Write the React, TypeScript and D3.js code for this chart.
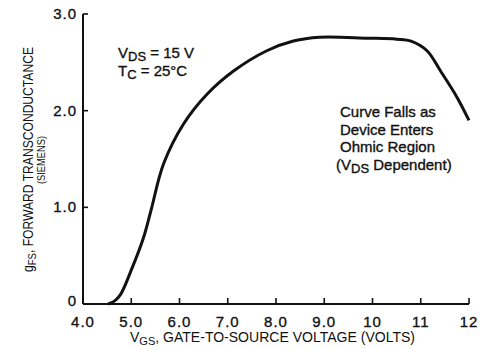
import React, { useEffect, useRef } from 'react';
import * as d3 from 'd3';

// curve
const vgs = [4.52, 4.65, 4.78, 5.0, 5.25, 5.4, 5.67, 6.08, 6.57, 7.12, 7.81, 8.36, 8.9, 9.9, 10.5, 10.8, 11.13, 11.41, 11.75, 12.0];
const gfs = [0, 0.03, 0.1, 0.35, 0.68, 0.95, 1.45, 1.86, 2.17, 2.41, 2.62, 2.72, 2.76, 2.75, 2.74, 2.72, 2.62, 2.41, 2.14, 1.9];

const xTicks = [4, 5, 6, 7, 8, 9, 10, 11, 12];
const xTickLabels = ['4.0', '5.0', '6.0', '7.0', '8.0', '9.0', '10', '11', '12'];
const yTicks = [0, 1, 2, 3];
const yTickLabels = ['0', '1.0', '2.0', '3.0'];

const noteLines = ['Curve Falls as', 'Device Enters', 'Ohmic Region'];

const App = () => {
  const svgRef = useRef<SVGSVGElement>(null);

  useEffect(() => {
    const svg = d3.select(svgRef.current);
    svg.selectAll('*').remove();

    const width = 481;
    const height = 349;
    const font = 'Liberation Sans, Arial, Helvetica, sans-serif';
    const narrow = 'Liberation Sans Narrow, Arial Narrow, Liberation Sans, sans-serif';
    const ink = '#111';

    const x = d3.scaleLinear().domain([4, 12]).range([83, 469]);
    const y = d3.scaleLinear().domain([0, 3]).range([304, 14]);

    svg.attr('width', width).attr('height', height);
    svg.append('rect').attr('width', width).attr('height', height).attr('fill', '#fff');

    // axes
    svg.append('line')
      .attr('x1', x(4)).attr('x2', x(4))
      .attr('y1', y(3)).attr('y2', y(0))
      .attr('stroke', ink).attr('stroke-width', 2);
    svg.append('line')
      .attr('x1', x(4)).attr('x2', x(12))
      .attr('y1', y(0)).attr('y2', y(0))
      .attr('stroke', ink).attr('stroke-width', 2);

    svg.selectAll('.xtick')
      .data(xTicks.slice(1))
      .enter()
      .append('line')
      .attr('x1', d => x(d)).attr('x2', d => x(d))
      .attr('y1', y(0)).attr('y2', y(0) - 6)
      .attr('stroke', ink).attr('stroke-width', 1.6);

    svg.selectAll('.ytick')
      .data(yTicks.slice(1))
      .enter()
      .append('line')
      .attr('x1', x(4)).attr('x2', x(4) + 5)
      .attr('y1', d => y(d)).attr('y2', d => y(d))
      .attr('stroke', ink).attr('stroke-width', 1.6);

    // tick labels
    svg.selectAll('.xlabel')
      .data(xTicks)
      .enter()
      .append('text')
      .attr('x', d => x(d))
      .attr('y', 327)
      .attr('text-anchor', 'middle')
      .attr('font-family', font)
      .attr('font-size', 15)
      .attr('letter-spacing', 1)
      .attr('fill', ink)
      .attr('stroke', ink).attr('stroke-width', 0.35)
      .text((d, i) => xTickLabels[i]);

    svg.selectAll('.ylabel')
      .data(yTicks)
      .enter()
      .append('text')
      .attr('x', 77)
      .attr('y', (d, i) => y(d) + (i === 0 ? 2 : 5))
      .attr('text-anchor', 'end')
      .attr('font-family', font)
      .attr('font-size', 15)
      .attr('letter-spacing', 1)
      .attr('fill', ink)
      .attr('stroke', ink).attr('stroke-width', 0.35)
      .text((d, i) => yTickLabels[i]);

    // curve
    const pts: [number, number][] = vgs.map((v, i) => [v, gfs[i]]);
    const line = d3.line<[number, number]>()
      .x(d => x(d[0]))
      .y(d => y(d[1]))
      .curve(d3.curveCatmullRom.alpha(0.5));
    svg.append('path')
      .attr('d', line(pts))
      .attr('fill', 'none')
      .attr('stroke', ink)
      .attr('stroke-width', 3);

    // x axis title
    const xt = svg.append('text')
      .attr('x', 130).attr('y', 342)
      .attr('font-family', narrow)
      .attr('font-size', 14)
      .attr('textLength', 285)
      .attr('lengthAdjust', 'spacingAndGlyphs')
      .attr('fill', ink);
    xt.append('tspan').text('V');
    xt.append('tspan').attr('font-size', 11).attr('dy', 3).text('GS');
    xt.append('tspan').attr('dy', -3).text(', GATE-TO-SOURCE VOLTAGE (VOLTS)');

    // y axis title
    const yt = svg.append('text')
      .attr('transform', 'translate(33,160) rotate(-90)')
      .attr('x', -112)
      .attr('font-family', narrow)
      .attr('font-size', 14)
      .attr('textLength', 225)
      .attr('lengthAdjust', 'spacingAndGlyphs')
      .attr('fill', ink);
    yt.append('tspan').text('g');
    yt.append('tspan').attr('font-size', 11).attr('dy', 3).text('FS');
    yt.append('tspan').attr('dy', -3).text(', FORWARD TRANSCONDUCTANCE');

    svg.append('text')
      .attr('transform', 'translate(45,160) rotate(-90)')
      .attr('x', -24)
      .attr('font-family', narrow)
      .attr('font-size', 11)
      .attr('textLength', 48)
      .attr('lengthAdjust', 'spacingAndGlyphs')
      .attr('fill', ink)
      .text('(SIEMENS)');

    // conditions
    const c1 = svg.append('text')
      .attr('x', 118).attr('y', 58)
      .attr('font-family', font).attr('font-size', 15)
      .attr('fill', ink).attr('stroke', ink).attr('stroke-width', 0.35);
    c1.append('tspan').text('V');
    c1.append('tspan').attr('font-size', 13).attr('dy', 3).text('DS');
    c1.append('tspan').attr('dy', -3).text(' = 15 V');

    const c2 = svg.append('text')
      .attr('x', 118).attr('y', 76)
      .attr('font-family', font).attr('font-size', 15)
      .attr('fill', ink).attr('stroke', ink).attr('stroke-width', 0.35);
    c2.append('tspan').text('T');
    c2.append('tspan').attr('font-size', 13).attr('dy', 3).text('C');
    c2.append('tspan').attr('dy', -3).text(' = 25°C');

    // note
    svg.selectAll('.note')
      .data(noteLines)
      .enter()
      .append('text')
      .attr('x', 340)
      .attr('y', (d, i) => 117 + i * 17.7)
      .attr('font-family', font).attr('font-size', 15)
      .attr('fill', ink).attr('stroke', ink).attr('stroke-width', 0.35)
      .text(d => d);

    const n4 = svg.append('text')
      .attr('x', 336).attr('y', 170)
      .attr('font-family', font).attr('font-size', 15)
      .attr('fill', ink).attr('stroke', ink).attr('stroke-width', 0.35);
    n4.append('tspan').text('(V');
    n4.append('tspan').attr('font-size', 13).attr('dy', 3).text('DS');
    n4.append('tspan').attr('dy', -3).text(' Dependent)');
  }, []);

  return (
    <svg ref={svgRef} style={{ position: 'absolute', left: 0, top: 0 }}></svg>
  );
};

export default App;
